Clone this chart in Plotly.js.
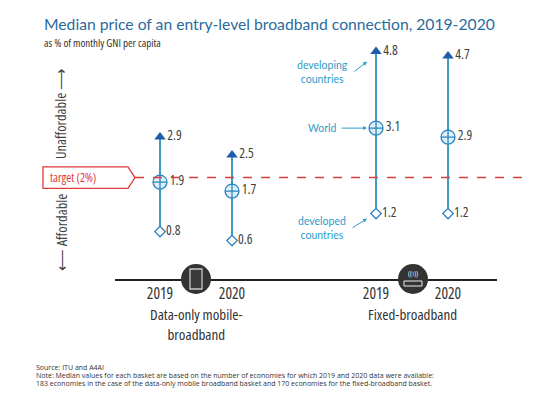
<!DOCTYPE html>
<html>
<head>
<meta charset="utf-8">
<script src="https://cdn.plot.ly/plotly-3.0.1.min.js"></script>
<style>
html,body{margin:0;padding:0;background:#fff;}
#chart{width:560px;height:409px;}
svg text[style*="xcond"]{font-stretch:75%;}
</style>
</head>
<body>
<div id="chart"></div>
<script>
// ---- data ----
var categories = ["Mobile 2019", "Mobile 2020", "gap", "Fixed 2019", "Fixed 2020"];
var tickYears = ["2019", "2020", "", "2019", "2020"];
var seriesCats = ["Mobile 2019", "Mobile 2020", "Fixed 2019", "Fixed 2020"];
var developing = [2.9, 2.5, 4.8, 4.7];
var world = [1.9, 1.7, 3.1, 2.9];
var developed = [0.8, 0.6, 1.2, 1.2];
var targetValue = 2;
var basketLabels = ["Data-only mobile-<br>broadband", "Fixed-broadband"];

var NARROW = "Open Sans, xcond, sans-serif";
var SANS = "Open Sans, Noto Sans, sans-serif";
var GREY = "#404040";
var LINEBLUE = "#3a9cc6";
var DARKBLUE = "#1d5ca8";
var LABELBLUE = "#2e9cc8";
var RED = "#e03a3a";

function fmt(a){ return a.map(function(v){ return v.toFixed(1); }); }

var lx = [], ly = [];
for (var i = 0; i < seriesCats.length; i++) {
  lx.push(seriesCats[i], seriesCats[i], null);
  ly.push(developed[i], developing[i], null);
}

var traces = [
  {type:"scatter", mode:"lines", x:lx, y:ly, line:{color:LINEBLUE, width:2}, hoverinfo:"skip", cliponaxis:false},
  {type:"scatter", mode:"markers+text", x:seriesCats, y:developing, text:fmt(developing), textposition:"middle right",
   textfont:{family:NARROW, size:13.5, color:GREY},
   marker:{symbol:"triangle-up", size:10, color:DARKBLUE}, cliponaxis:false},
  {type:"scatter", mode:"markers+text", x:seriesCats, y:world, text:fmt(world), textposition:"middle right",
   textfont:{family:NARROW, size:13.5, color:GREY},
   marker:{symbol:"circle-cross", size:14, color:"#dff0f8", line:{color:"#2a86bf", width:1.3}}, cliponaxis:false},
  {type:"scatter", mode:"markers+text", x:seriesCats, y:developed, text:fmt(developed), textposition:"middle right",
   textfont:{family:NARROW, size:13.5, color:GREY},
   marker:{symbol:"diamond", size:8, color:"#ffffff", line:{color:"#2a7fc0", width:1.3}}, cliponaxis:false}
];

function px2paperX(px){ return (px-115)/382; }
function px2paperY(py){ return (279-py)/239; }

var shapes = [
  {type:"line", xref:"paper", yref:"y", x0:px2paperX(135), x1:px2paperX(522), y0:targetValue, y1:targetValue,
   line:{color:RED, width:1.5, dash:"dash"}},
  {type:"path", xref:"paper", yref:"y",
   path:"M "+px2paperX(43)+" "+(targetValue+0.24)+" L "+px2paperX(128)+" "+(targetValue+0.24)+" L "+px2paperX(135)+" "+targetValue+
        " L "+px2paperX(128)+" "+(targetValue-0.24)+" L "+px2paperX(43)+" "+(targetValue-0.24)+" Z",
   line:{color:RED, width:1.3}, fillcolor:"#ffffff"},
  {type:"circle", xref:"paper", yref:"paper", xsizemode:"pixel", ysizemode:"pixel", xanchor:px2paperX(196), yanchor:0,
   x0:-15, x1:15, y0:-15, y1:15, fillcolor:"#333333", line:{width:0}, layer:"above"},
  {type:"circle", xref:"paper", yref:"paper", xsizemode:"pixel", ysizemode:"pixel", xanchor:px2paperX(413), yanchor:0,
   x0:-15, x1:15, y0:-15, y1:15, fillcolor:"#333333", line:{width:0}, layer:"above"},
  {type:"rect", xref:"paper", yref:"paper", xsizemode:"pixel", ysizemode:"pixel", xanchor:px2paperX(196), yanchor:0,
   x0:-6, x1:6, y0:-10, y1:10, fillcolor:"#3a3a3a", line:{color:"#c8c8c8", width:1.3}, layer:"above"},
  {type:"rect", xref:"paper", yref:"paper", xsizemode:"pixel", ysizemode:"pixel", xanchor:px2paperX(413), yanchor:0,
   x0:-9, x1:9, y0:-7, y1:-2, fillcolor:"#333333", line:{color:"#eeeeee", width:1}, layer:"above"}
];

function ann(o){ if(!o.xanchor) o.xanchor="center"; if(!o.yanchor) o.yanchor="middle"; if(o.showarrow===undefined) o.showarrow=false; return o; }

var annotations = [
  ann({xref:"paper", yref:"paper", x:px2paperX(42), y:px2paperY(24), xanchor:"left",
   text:"Median price of an entry-level broadband connection, 2019-2020", font:{family:"Lato, "+SANS, size:15.7, color:"#2b6b9c"}}),
  ann({xref:"paper", yref:"paper", x:px2paperX(42), y:px2paperY(43), xanchor:"left",
   text:"as % of monthly GNI per capita", font:{family:NARROW, size:11, color:"#333333"}}),
  ann({xref:"paper", yref:"paper", x:px2paperX(61), y:px2paperY(113), textangle:-90,
   text:"Unaffordable \u27F6", font:{family:NARROW, size:14.5, color:GREY}}),
  ann({xref:"paper", yref:"paper", x:px2paperX(61), y:px2paperY(232), textangle:-90,
   text:"\u27F5 Affordable", font:{family:NARROW, size:14.5, color:GREY}}),
  ann({xref:"paper", yref:"y", x:px2paperX(73), y:targetValue,
   text:"target (2%)", font:{family:NARROW, size:12, color:RED}}),
  ann({xref:"x", yref:"paper", x:0.5, y:px2paperY(302), yanchor:"top", text:basketLabels[0],
   font:{family:NARROW, size:15, color:"#333333"}}),
  ann({xref:"x", yref:"paper", x:3.5, y:px2paperY(302), yanchor:"top", text:basketLabels[1],
   font:{family:NARROW, size:15, color:"#333333"}}),
  ann({xref:"paper", yref:"paper", x:px2paperX(413), y:px2paperY(273), text:"((\u0131))",
   font:{family:SANS, size:7, color:"#eeeeee"}}),
  ann({xref:"x", yref:"y", x:seriesCats[2], y:developing[2], xshift:-54, yshift:-20,
   text:"developing<br>countries", font:{family:"Lato, "+SANS, size:10.5, color:LABELBLUE}}),
  ann({xref:"x", yref:"y", x:seriesCats[2], y:world[2], xshift:-54,
   text:"World", font:{family:"Lato, "+SANS, size:10.5, color:LABELBLUE}}),
  ann({xref:"x", yref:"y", x:seriesCats[2], y:developed[2], xshift:-54, yshift:-14,
   text:"developed<br>countries", font:{family:"Lato, "+SANS, size:10.5, color:LABELBLUE}}),
  {xref:"x", yref:"y", x:seriesCats[2], y:developing[2], xshift:-9, yshift:-10, text:"", showarrow:true,
   ax:-14, ay:11, arrowhead:2, arrowsize:0.8, arrowwidth:1, arrowcolor:LABELBLUE},
  {xref:"x", yref:"y", x:seriesCats[2], y:world[2], xshift:-9, text:"", showarrow:true,
   ax:-27, ay:0, arrowhead:2, arrowsize:0.8, arrowwidth:1, arrowcolor:LABELBLUE},
  {xref:"x", yref:"y", x:seriesCats[2], y:developed[2], xshift:-9, yshift:-5, text:"", showarrow:true,
   ax:-16, ay:10, arrowhead:2, arrowsize:0.8, arrowwidth:1, arrowcolor:LABELBLUE},
  ann({xref:"paper", yref:"paper", x:px2paperX(34), y:px2paperY(367.5), xanchor:"left",
   text:"Source: ITU and A4AI", font:{family:SANS, size:7, color:"#333333"}}),
  ann({xref:"paper", yref:"paper", x:px2paperX(34), y:px2paperY(375.5), xanchor:"left",
   text:"Note: Median values for each basket are based on the number of economies for which 2019 and 2020 data were available:",
   font:{family:SANS, size:7, color:"#333333"}}),
  ann({xref:"paper", yref:"paper", x:px2paperX(34), y:px2paperY(383.5), xanchor:"left",
   text:"183 economies in the case of the data-only mobile broadband basket and 170 economies for the fixed-broadband basket.",
   font:{family:SANS, size:7, color:"#333333"}})
];

var layout = {
  width:560, height:409,
  margin:{l:115, r:63, t:40, b:130},
  paper_bgcolor:"#ffffff", plot_bgcolor:"rgba(0,0,0,0)",
  showlegend:false,
  xaxis:{type:"category", categoryarray:categories, categoryorder:"array", range:[-0.625, 4.68],
         tickvals:categories, ticktext:tickYears, showgrid:false, zeroline:false, showline:true,
         linecolor:"#222222", linewidth:1.5, ticks:"", tickfont:{family:NARROW, size:15.5, color:"#333333"}, fixedrange:true},
  yaxis:{range:[-0.253, 5.058], visible:false, showgrid:false, zeroline:false, fixedrange:true},
  shapes:shapes,
  annotations:annotations
};

Plotly.newPlot("chart", traces, layout, {displayModeBar:false, staticPlot:true});
</script>
</body>
</html>
